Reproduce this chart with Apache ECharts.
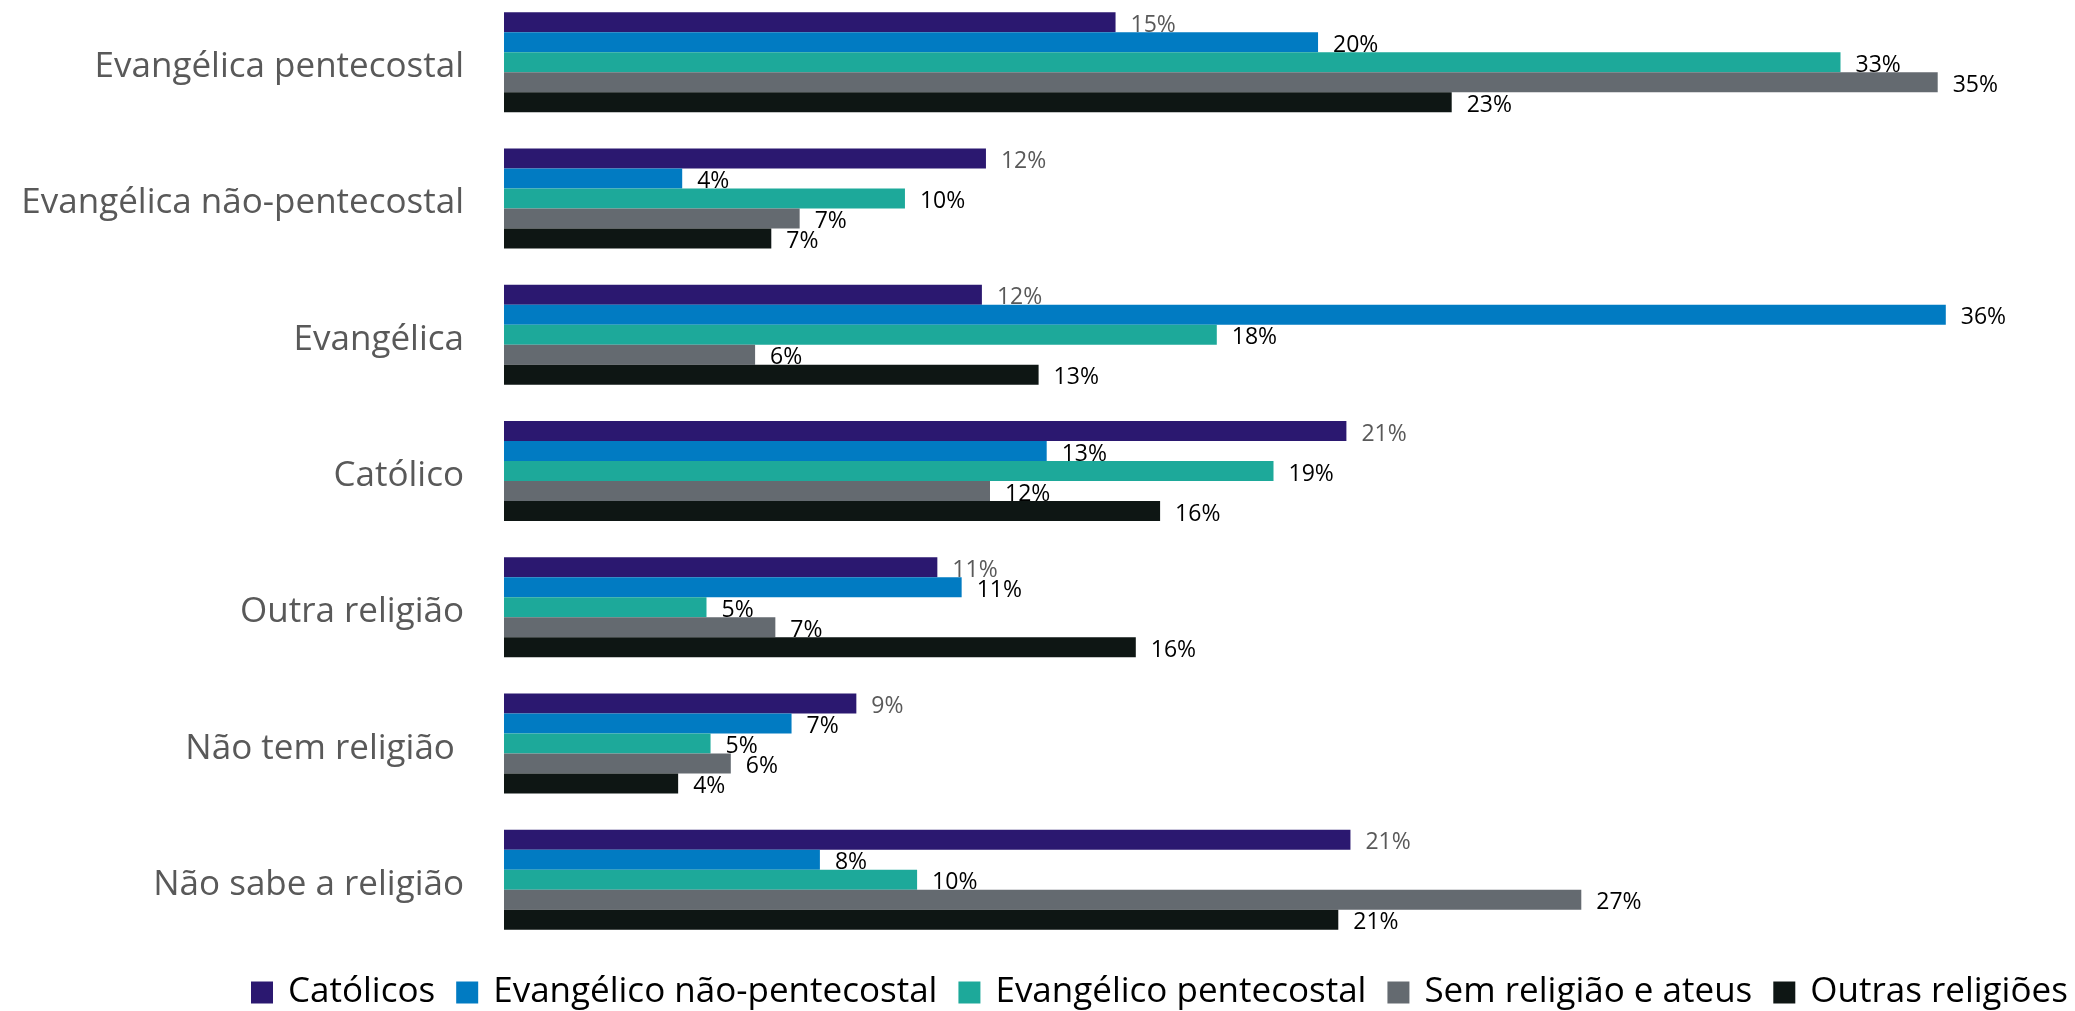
<!DOCTYPE html>
<html>
<head>
<meta charset="utf-8">
<script src="https://cdn.jsdelivr.net/npm/echarts@6/dist/echarts.min.js"></script>
<style>
html,body{margin:0;padding:0;background:#fff;}
#c{width:2075px;height:1011px;}
</style>
</head>
<body>
<div id="c"></div>
<script>
const categories = ['Evangélica pentecostal','Evangélica não-pentecostal','Evangélica','Católico','Outra religião','Não tem religião ','Não sabe a religião'];
const seriesNames = ['Católicos','Evangélico não-pentecostal','Evangélico pentecostal','Sem religião e ateus','Outras religiões'];
const catolicos = [15.1, 11.9, 11.8, 20.8, 10.7, 8.7, 20.9];
const evangNaoPent = [20.1, 4.4, 35.6, 13.4, 11.3, 7.1, 7.8];
const evangPent = [33.0, 9.9, 17.6, 19.0, 5.0, 5.1, 10.2];
const semReligiao = [35.4, 7.3, 6.2, 12.0, 6.7, 5.6, 26.6];
const outras = [23.4, 6.6, 13.2, 16.2, 15.6, 4.3, 20.6];

const values = [catolicos, evangNaoPent, evangPent, semReligiao, outras];
const colors = ['#2B1870','#017BC2','#1DA99A','#646A70','#0E1614'];
const labelColors = ['#595959','#000000','#000000','#000000','#000000'];
const FONT = '"Open Sans", "Noto Sans", sans-serif';

const chart = echarts.init(document.getElementById('c'), null, {renderer:'canvas'});
chart.setOption({
  animation:false,
  backgroundColor:'#fff',
  grid:{left:504, right:32, top:-6, bottom:63, containLabel:false, outerBoundsMode:'none'},
  xAxis:{type:'value', min:0, max:38, show:false},
  yAxis:{
    type:'category', data:categories, inverse:true,
    axisLine:{show:false}, axisTick:{show:false}, splitLine:{show:false},
    axisLabel:{color:'#595959', fontSize:35, fontFamily:FONT, margin:40,
      formatter:v=>'{t|'+v+'}',
      rich:{t:{color:'#595959', fontSize:35, fontFamily:FONT, padding:[10,0,0,0]}}}
  },
  legend:{
    data:seriesNames, left:246, top:970, itemWidth:22, itemHeight:22, itemGap:21,
    icon:'rect',
    textStyle:{color:'#000', fontSize:35, fontFamily:FONT, padding:[0,0,0,10]}
  },
  series: values.map((v,i)=>({
    name:seriesNames[i], type:'bar', data:v, barWidth:20, barGap:'0%',
    itemStyle:{color:colors[i]},
    label:{show:true, position:'right', distance:15, offset:[0,3],
      color:labelColors[i], fontSize:23, fontFamily:FONT,
      formatter:p=>Math.round(p.value)+'%'}
  }))
});
</script>
</body>
</html>
